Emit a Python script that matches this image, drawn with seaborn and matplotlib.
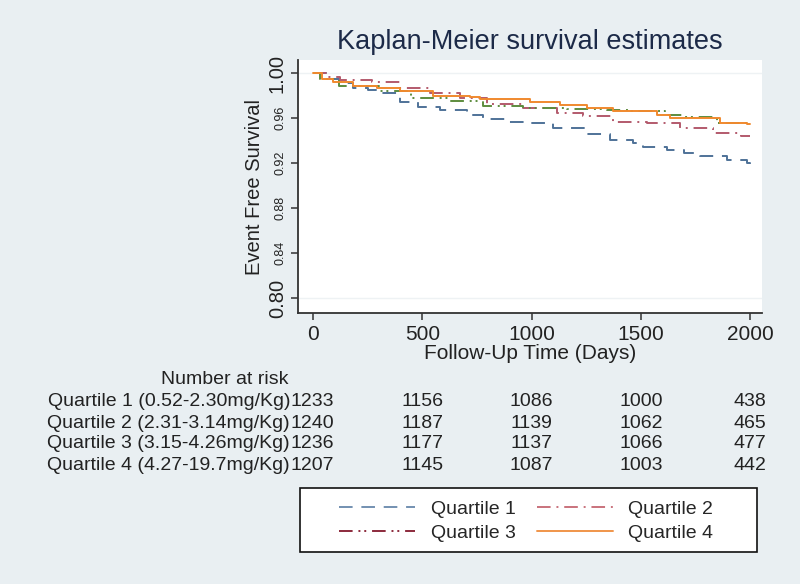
import pandas as pd
import seaborn as sns
import matplotlib.pyplot as plt
from matplotlib.lines import Line2D
from matplotlib.patches import Rectangle
from matplotlib.transforms import blended_transform_factory

# Step points of the KM curves (time in days, survival)
q1_time = [0, 60, 120, 183, 250, 307, 398, 480, 581, 705, 778, 880, 993, 1098,
           1254, 1359, 1465, 1510, 1620, 1700, 1771, 1895, 1986, 2000]
q1_surv = [1.0, 0.995, 0.991, 0.987, 0.985, 0.982, 0.974, 0.970, 0.967, 0.963,
           0.959, 0.957, 0.956, 0.951, 0.946, 0.941, 0.938, 0.934, 0.932, 0.929,
           0.926, 0.923, 0.920, 0.918]

q2_time = [0, 60, 124, 270, 398, 535, 672, 796, 961, 1117, 1236, 1373, 1529,
           1680, 1831, 1960, 2000]
q2_surv = [1.0, 0.997, 0.994, 0.992, 0.987, 0.982, 0.978, 0.973, 0.969, 0.965,
           0.962, 0.957, 0.956, 0.951, 0.947, 0.944, 0.944]

q3_time = [0, 30, 120, 300, 450, 627, 778, 960, 1162, 1345, 1450, 1610, 1693,
           1850, 1990, 2000]
q3_surv = [1.0, 0.995, 0.989, 0.984, 0.978, 0.975, 0.971, 0.969, 0.968, 0.967,
           0.966, 0.963, 0.961, 0.956, 0.955, 0.955]

q4_time = [0, 40, 92, 183, 293, 398, 549, 719, 764, 993, 1130, 1254, 1373,
           1574, 1634, 1863, 1986, 2000]
q4_surv = [1.0, 0.995, 0.992, 0.989, 0.987, 0.984, 0.980, 0.979, 0.977, 0.974,
           0.972, 0.969, 0.966, 0.963, 0.960, 0.956, 0.955, 0.955]

quartiles = ['Quartile 1', 'Quartile 2', 'Quartile 3', 'Quartile 4']
risk_labels = ['Quartile 1 (0.52-2.30mg/Kg)', 'Quartile 2 (2.31-3.14mg/Kg)',
               'Quartile 3 (3.15-4.26mg/Kg)', 'Quartile 4 (4.27-19.7mg/Kg)']
risk_times = [0, 500, 1000, 1500, 2000]
risk_counts = [[1233, 1156, 1086, 1000, 438],
               [1240, 1187, 1139, 1062, 465],
               [1236, 1177, 1137, 1066, 477],
               [1207, 1145, 1087, 1003, 442]]
y_ticks = [0.80, 0.84, 0.88, 0.92, 0.96, 1.00]
x_ticks = [0, 500, 1000, 1500, 2000]

# long form table for seaborn
frames = []
for name, t, s in zip(quartiles, [q1_time, q2_time, q3_time, q4_time],
                      [q1_surv, q2_surv, q3_surv, q4_surv]):
    frames.append(pd.DataFrame({'time': t, 'surv': s, 'group': name}))
df = pd.concat(frames, ignore_index=True)

sns.set_style('white')
plt.rcParams['font.family'] = ['Liberation Sans', 'DejaVu Sans']

bg = '#e9eff2'
txt = '#222222'
line_colors = {'Quartile 1': '#4f7298', 'Quartile 2': '#b35a6c',
               'Quartile 3': '#5d8c3e', 'Quartile 4': '#f0892e'}
legend_colors = ['#7391b1', '#c9727c', '#8c2a3c', '#f0954a']
dash_map = {'Quartile 1': (7, 4.5), 'Quartile 2': (7, 3, 1, 3),
            'Quartile 3': (7, 3, 1, 2, 1, 3), 'Quartile 4': ''}

fig = plt.figure(figsize=(8, 5.84), dpi=100, facecolor=bg)
ax = fig.add_axes([0.3725, 0.464, 0.58, 0.433])
ax.set_facecolor('white')

sns.lineplot(data=df, x='time', y='surv', hue='group', style='group',
             palette=line_colors, dashes=dash_map, drawstyle='steps-post',
             linewidth=1.4, legend=False, ax=ax)

ax.set_xlim(-69, 2055)
ax.set_ylim(0.7867, 1.0116)
for yv in [0.80, 1.00]:
    ax.axhline(yv, color='#eef2f4', linewidth=1, zorder=0)

for side in ['top', 'right']:
    ax.spines[side].set_visible(False)
for side in ['left', 'bottom']:
    ax.spines[side].set_color('#333333')
    ax.spines[side].set_linewidth(1.3)

ax.set_xticks(x_ticks)
ax.set_xticklabels([str(v) for v in x_ticks], fontsize=15, color=txt)
ax.set_yticks(y_ticks)
ax.set_yticklabels(['%.2f' % v for v in y_ticks], rotation=90, va='center',
                   color=txt)
for lab, v in zip(ax.get_yticklabels(), y_ticks):
    lab.set_fontsize(14.5 if v in (0.80, 1.00) else 9)
ax.tick_params(axis='both', direction='out', length=5, width=1.1,
               color='#333333', left=True, bottom=True)
ax.tick_params(axis='y', pad=3)

ax.set_xlabel('Follow-Up Time (Days)', fontsize=15, color=txt, labelpad=0)
ax.set_ylabel('Event Free Survival', fontsize=14.5, color=txt, labelpad=3)
fig.text(0.6625, 0.928, 'Kaplan-Meier survival estimates', ha='center',
         va='center', fontsize=19.5, color='#1c2a48')

# number at risk table
fs = 14
trans = blended_transform_factory(ax.transData, fig.transFigure)
fig.text(0.281, 1 - 380 / 584, 'Number at risk', ha='center', va='center',
         fontsize=fs, color=txt)
row_y = [402, 423, 444, 465]
for lab, counts, py in zip(risk_labels, risk_counts, row_y):
    fy = 1 - py / 584
    fig.text(0.3625, fy, lab, ha='right', va='center', fontsize=fs, color=txt)
    for i, (t, c) in enumerate(zip(risk_times, counts)):
        if i == 0:
            fig.text(0.3625, fy, str(c), ha='left', va='center', fontsize=fs,
                     color=txt)
        else:
            ax.text(t, fy, str(c), ha='center', va='center', fontsize=fs,
                    color=txt, transform=trans, clip_on=False)

# legend key box, colours as shown in the reference key
fig.patches.append(Rectangle((300 / 800, 1 - 552 / 584), 457 / 800, 64 / 584,
                             transform=fig.transFigure, facecolor='white',
                             edgecolor='#111111', linewidth=1.2, zorder=1))
handles = []
for i, q in enumerate(quartiles):
    if dash_map[q]:
        handles.append(Line2D([], [], color=legend_colors[i], linewidth=1.4,
                              linestyle=(0, dash_map[q])))
    else:
        handles.append(Line2D([], [], color=legend_colors[i], linewidth=1.4))
order = [0, 2, 1, 3]
leg = fig.legend([handles[i] for i in order], [quartiles[i] for i in order],
                 loc='center', ncol=2, bbox_to_anchor=(0.658, 1 - 521 / 584),
                 fontsize=14, frameon=False, handlelength=3.9,
                 columnspacing=1.1, handletextpad=0.8, labelspacing=0.35)
leg.set_zorder(2)

fig.savefig('out.png', dpi=100, facecolor=bg)
